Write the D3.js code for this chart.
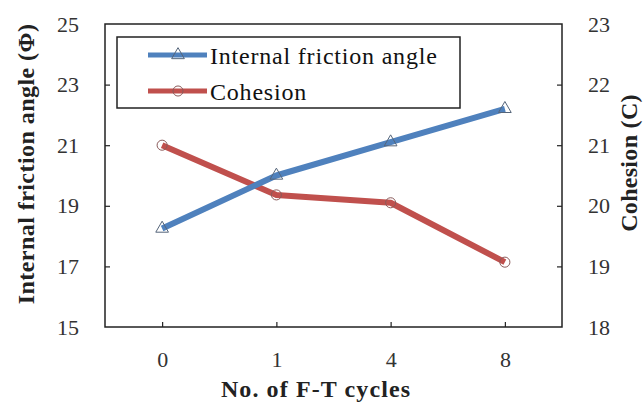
<!DOCTYPE html>
<html><head><meta charset="utf-8">
<script src="https://cdn.jsdelivr.net/npm/d3@7"></script>
<style>body{margin:0;background:#fff}svg{display:block}
svg text{font-family:"Liberation Serif","Times New Roman",Tinos,"DejaVu Serif",serif !important;}
</style>
</head><body>
<svg id="c" width="644" height="403"></svg>
<script>
const categories = ["0","1","4","8"];
const frictionAngle = [18.25, 20.0, 21.1, 22.2];
const cohesion = [21.0, 20.18, 20.05, 19.07];
const leftTicks = [15,17,19,21,23,25];
const rightTicks = [18,19,20,21,22,23];
const seriesNames = ["Internal friction angle","Cohesion"];

const svg = d3.select("#c");
const L=105,R=562,T=24,B=327;
const blue="#4F81BD", red="#C0504D";

const x = d3.scalePoint().domain(categories).range([L,R]).padding(0.5);
const yL = d3.scaleLinear().domain([15,25]).range([B,T]);
const yR = d3.scaleLinear().domain([18,23]).range([B,T]);

svg.append("rect").attr("x",L).attr("y",T).attr("width",R-L).attr("height",B-T)
  .attr("fill","none").attr("stroke","#222").attr("stroke-width",1.5);

const axL = svg.append("g").attr("transform",`translate(${L},0)`)
  .call(d3.axisLeft(yL).tickValues(leftTicks).tickFormat(d3.format("d")).tickSizeInner(-5).tickSizeOuter(0).tickPadding(26));
const axR = svg.append("g").attr("transform",`translate(${R},0)`)
  .call(d3.axisRight(yR).tickValues(rightTicks).tickFormat(d3.format("d")).tickSizeInner(-5).tickSizeOuter(0).tickPadding(26));
const axB = svg.append("g").attr("transform",`translate(0,${B})`)
  .call(d3.axisBottom(x).tickSizeInner(-5).tickSizeOuter(0).tickPadding(24));
[axL,axR,axB].forEach(a=>{
  a.attr("font-family",null);
  a.select(".domain").remove();
  a.selectAll(".tick line").attr("stroke","#222").attr("stroke-width",1.2);
  a.selectAll(".tick text").attr("font-size",22).attr("fill","#333");
});
axL.selectAll(".tick").filter(d=>d===25||d===15).select("line").remove();
axR.selectAll(".tick").filter(d=>d===23||d===18).select("line").remove();

const lineL = d3.line().x((d,i)=>x(categories[i])).y(d=>yL(d));
const lineR = d3.line().x((d,i)=>x(categories[i])).y(d=>yR(d));
svg.append("path").attr("d",lineR(cohesion)).attr("fill","none").attr("stroke",red).attr("stroke-width",6).attr("stroke-linejoin","round");
svg.append("path").attr("d",lineL(frictionAngle)).attr("fill","none").attr("stroke",blue).attr("stroke-width",6).attr("stroke-linejoin","round");

const tri = d3.symbol().type(d3.symbolTriangle).size(70);
const circ = d3.symbol().type(d3.symbolCircle).size(80);
svg.selectAll(".mc").data(cohesion).join("path")
  .attr("d",circ).attr("transform",(d,i)=>`translate(${x(categories[i])},${yR(d)})`)
  .attr("fill","none").attr("stroke","#8a5a5a").attr("stroke-width",1);
svg.selectAll(".mt").data(frictionAngle).join("path")
  .attr("d",tri).attr("transform",(d,i)=>`translate(${x(categories[i])},${yL(d)})`)
  .attr("fill","none").attr("stroke","#55657a").attr("stroke-width",1);

svg.append("rect").attr("x",117).attr("y",37).attr("width",343).attr("height",71)
  .attr("fill","#fff").attr("stroke","#222").attr("stroke-width",1.5);
const leg = [{name:seriesNames[0],c:blue,s:tri,o:"#55657a",y:55},{name:seriesNames[1],c:red,s:circ,o:"#8a5a5a",y:91}];
leg.forEach(g=>{
  svg.append("line").attr("x1",148).attr("x2",207).attr("y1",g.y).attr("y2",g.y).attr("stroke",g.c).attr("stroke-width",5);
  svg.append("path").attr("d",g.s).attr("transform",`translate(178,${g.y})`).attr("fill","none").attr("stroke",g.o).attr("stroke-width",1);
  svg.append("text").attr("x",210).attr("y",g.y+9).attr("font-size",24).attr("letter-spacing",0.8).attr("fill","#111").text(g.name);
});

svg.append("text").attr("transform","translate(34,164) rotate(-90)").attr("text-anchor","middle")
  .attr("font-weight","bold").attr("font-size",24).attr("letter-spacing",0.45).attr("fill","#222").text("Internal friction angle (Φ)");
svg.append("text").attr("transform","translate(637,163) rotate(-90)").attr("text-anchor","middle")
  .attr("font-weight","bold").attr("font-size",24).attr("letter-spacing",0.3).attr("fill","#222").text("Cohesion (C)");
svg.append("text").attr("x",316).attr("y",397).attr("text-anchor","middle")
  .attr("font-weight","bold").attr("font-size",24).attr("letter-spacing",1.1).attr("fill","#222").text("No. of F-T cycles");
</script>
</body></html>
